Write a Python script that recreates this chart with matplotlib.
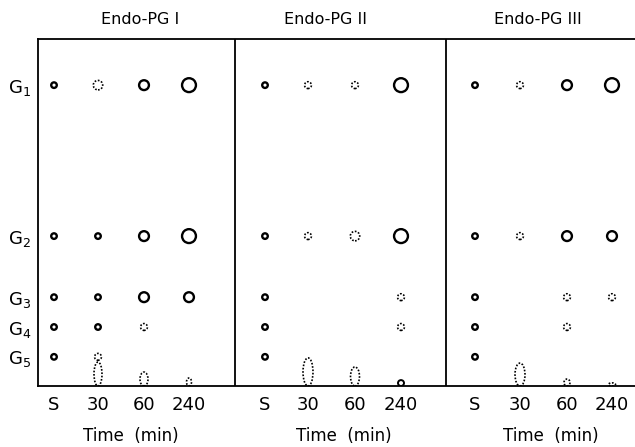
import numpy as np
import matplotlib
matplotlib.use("Agg")
import matplotlib.pyplot as plt
from matplotlib.patches import Ellipse

# ── data: spot codes per enzyme, rows G1..G5, lanes S / 30 / 60 / 240 min ────
# s = small spot, m = medium, l = large, d = faint (dotted) small, D = faint medium
ENZYMES = ["Endo-PG I", "Endo-PG II", "Endo-PG III"]
ROW_LABELS = ["G$_1$", "G$_2$", "G$_3$", "G$_4$", "G$_5$"]
LANE_LABELS = ["S", "30", "60", "240"]
ROW_RF = [0.867, 0.432, 0.256, 0.170, 0.084]

SPOTS_I = [
    ["s", "D", "m", "l"],
    ["s", "s", "m", "l"],
    ["s", "s", "m", "m"],
    ["s", "s", "d", ""],
    ["s", "d", "", ""],
]
SPOTS_II = [
    ["s", "d", "d", "l"],
    ["s", "d", "D", "l"],
    ["s", "", "", "d"],
    ["s", "", "", "d"],
    ["s", "", "", ""],
]
SPOTS_III = [
    ["s", "d", "m", "l"],
    ["s", "d", "m", "m"],
    ["s", "", "d", "d"],
    ["s", "", "d", ""],
    ["s", "", "", ""],
]

# streaks near the origin: top Rf per lane (0 = none)
STREAK_TOP_I = [0, 0.069, 0.040, 0.023]
STREAK_TOP_II = [0, 0.081, 0.055, 0.017]
STREAK_TOP_III = [0, 0.066, 0.020, 0.009]

# ── layout (pixel-ish x units from left frame edge) ──────────────────────────
LANE_X = [
    [16, 60, 106, 151],
    [227, 270, 317, 363],
    [437, 482, 529, 574],
]
DIVIDERS = [197, 408]
X_MAX = 597
STREAK_W = [
    [0, 8, 8, 5],
    [0, 10, 9, 6],
    [0, 10, 6, 7],
]
STREAK_DOTTED = [
    [False, True, True, True],
    [False, True, True, False],
    [False, True, True, True],
]

DOT_LS = (0, (1, 1))
SPOT_STYLE = {
    "s": dict(s=16, lw=1.7, ls="solid"),
    "m": dict(s=50, lw=1.7, ls="solid"),
    "l": dict(s=100, lw=1.7, ls="solid"),
    "d": dict(s=24, lw=1.2, ls=DOT_LS),
    "D": dict(s=46, lw=1.2, ls=DOT_LS),
}

fig = plt.figure(figsize=(6.35, 4.47), dpi=100)
ax = fig.add_axes([38 / 635, 61 / 447, 597 / 635, 347 / 447])
ax.set_xlim(0, X_MAX)
ax.set_ylim(0, 1)

all_spots = [SPOTS_I, SPOTS_II, SPOTS_III]
all_streaks = [STREAK_TOP_I, STREAK_TOP_II, STREAK_TOP_III]

for p, spots in enumerate(all_spots):
    for r, row in enumerate(spots):
        for lane, code in enumerate(row):
            if not code:
                continue
            st = SPOT_STYLE[code]
            ax.scatter(LANE_X[p][lane], ROW_RF[r], s=st["s"], facecolors="none",
                       edgecolors="black", linewidths=st["lw"],
                       linestyles=[st["ls"]], zorder=3, clip_on=False)
    for lane, top in enumerate(all_streaks[p]):
        if top <= 0:
            continue
        dotted = STREAK_DOTTED[p][lane]
        ax.add_patch(Ellipse((LANE_X[p][lane], top / 2), STREAK_W[p][lane], top,
                             facecolor="none", edgecolor="black",
                             lw=1.2 if dotted else 1.4,
                             ls=DOT_LS if dotted else "solid",
                             zorder=3))

# panel dividers
for xd in DIVIDERS:
    ax.axvline(xd, color="black", lw=1.3)

ax.spines["right"].set_visible(False)
for side in ("left", "top", "bottom"):
    ax.spines[side].set_linewidth(1.3)

# row labels
ax.set_yticks(ROW_RF)
ax.set_yticklabels(ROW_LABELS, fontsize=13)
ax.tick_params(axis="y", length=0, pad=5)

# lane labels
xt = [x for lanes in LANE_X for x in lanes]
ax.set_xticks(xt)
ax.set_xticklabels(LANE_LABELS * 3, fontsize=13)
ax.tick_params(axis="x", length=0, pad=7)

# panel titles and x-axis labels
title_x = [102, 288, 500]
time_x = [93, 306, 513]
for p, name in enumerate(ENZYMES):
    ax.text(title_x[p], 1.0 + 19 / 347, name, ha="center", va="center",
            fontsize=11.5)
    ax.text(time_x[p], -50 / 347, "Time  (min)", ha="center", va="center",
            fontsize=12)

fig.savefig("out.png", dpi=100)
